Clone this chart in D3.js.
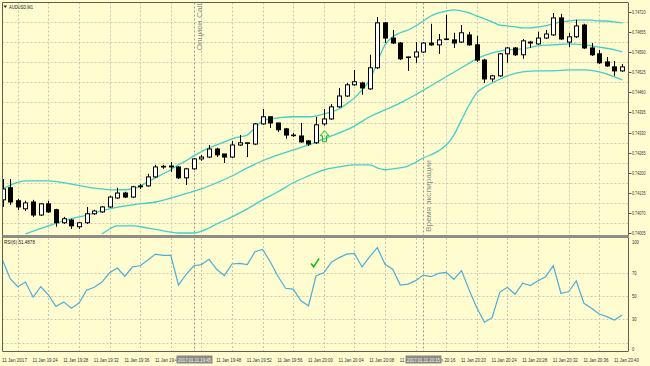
<!DOCTYPE html>
<html>
<head>
<meta charset="utf-8">
<script src="https://cdn.jsdelivr.net/npm/d3@7"></script>
<style>
  body { margin: 0; background: #fffccf; }
  svg { display: block; font-family: "Liberation Sans", "DejaVu Sans", sans-serif; }
</style>
</head>
<body>
<div id="chart"></div>
<script>
// Chart size
const width = 650;
const height = 366;

// AUDUSD M1 candles, one per minute from 19:20 to 20:41
const opens = [
  0.74113, 0.74152, 0.74110, 0.74084, 0.74106, 0.74064, 0.74100, 0.74081, 0.74039, 0.74048,
  0.74026, 0.74039, 0.74068, 0.74074, 0.74090, 0.74119, 0.74135, 0.74122, 0.74155, 0.74158,
  0.74187, 0.74219, 0.74219, 0.74219, 0.74184, 0.74213, 0.74245, 0.74251, 0.74277, 0.74261,
  0.74251, 0.74290, 0.74297, 0.74293, 0.74358, 0.74381, 0.74361, 0.74342, 0.74322, 0.74319,
  0.74303, 0.74297, 0.74358, 0.74374, 0.74413, 0.74448, 0.74484, 0.74490, 0.74471, 0.74539,
  0.74684, 0.74635, 0.74619, 0.74574, 0.74574, 0.74590, 0.74619, 0.74613, 0.74632, 0.74629,
  0.74622, 0.74645, 0.74613, 0.74564, 0.74503, 0.74513, 0.74584, 0.74603, 0.74581, 0.74622,
  0.74616, 0.74635, 0.74645, 0.74700, 0.74622, 0.74639, 0.74677, 0.74603, 0.74584, 0.74558,
  0.74542, 0.74529
];
const highs = [
  0.74180, 0.74180, 0.74116, 0.74110, 0.74113, 0.74103, 0.74110, 0.74084, 0.74058, 0.74052,
  0.74042, 0.74090, 0.74081, 0.74093, 0.74126, 0.74152, 0.74139, 0.74158, 0.74164, 0.74197,
  0.74226, 0.74226, 0.74235, 0.74222, 0.74216, 0.74248, 0.74258, 0.74290, 0.74281, 0.74261,
  0.74303, 0.74322, 0.74298, 0.74361, 0.74406, 0.74382, 0.74361, 0.74345, 0.74329, 0.74361,
  0.74306, 0.74381, 0.74406, 0.74422, 0.74474, 0.74490, 0.74532, 0.74494, 0.74581, 0.74703,
  0.74687, 0.74661, 0.74622, 0.74575, 0.74622, 0.74622, 0.74681, 0.74648, 0.74710, 0.74652,
  0.74677, 0.74655, 0.74642, 0.74568, 0.74516, 0.74587, 0.74606, 0.74606, 0.74632, 0.74626,
  0.74655, 0.74661, 0.74716, 0.74713, 0.74652, 0.74694, 0.74681, 0.74619, 0.74597, 0.74574,
  0.74561, 0.74551
];
const lows = [
  0.74090, 0.74097, 0.74080, 0.74077, 0.74058, 0.74061, 0.74071, 0.74026, 0.74035, 0.74019,
  0.74019, 0.74035, 0.74064, 0.74071, 0.74087, 0.74116, 0.74119, 0.74119, 0.74148, 0.74155,
  0.74184, 0.74213, 0.74203, 0.74180, 0.74161, 0.74210, 0.74239, 0.74248, 0.74251, 0.74232,
  0.74248, 0.74287, 0.74251, 0.74290, 0.74355, 0.74345, 0.74332, 0.74310, 0.74316, 0.74297,
  0.74287, 0.74293, 0.74352, 0.74371, 0.74410, 0.74445, 0.74481, 0.74452, 0.74468, 0.74535,
  0.74619, 0.74616, 0.74564, 0.74529, 0.74555, 0.74587, 0.74610, 0.74584, 0.74629, 0.74603,
  0.74619, 0.74610, 0.74558, 0.74490, 0.74494, 0.74510, 0.74555, 0.74577, 0.74568, 0.74603,
  0.74613, 0.74632, 0.74642, 0.74629, 0.74606, 0.74635, 0.74600, 0.74577, 0.74551, 0.74542,
  0.74513, 0.74526
];
const closes = [
  0.74148, 0.74106, 0.74090, 0.74103, 0.74064, 0.74100, 0.74074, 0.74039, 0.74052, 0.74029,
  0.74039, 0.74068, 0.74077, 0.74090, 0.74122, 0.74135, 0.74122, 0.74155, 0.74158, 0.74187,
  0.74219, 0.74221, 0.74222, 0.74184, 0.74213, 0.74245, 0.74251, 0.74277, 0.74258, 0.74251,
  0.74290, 0.74297, 0.74297, 0.74358, 0.74381, 0.74361, 0.74339, 0.74322, 0.74321, 0.74300,
  0.74293, 0.74355, 0.74374, 0.74413, 0.74448, 0.74484, 0.74494, 0.74474, 0.74539, 0.74684,
  0.74635, 0.74619, 0.74568, 0.74574, 0.74590, 0.74619, 0.74613, 0.74629, 0.74632, 0.74619,
  0.74652, 0.74613, 0.74564, 0.74503, 0.74513, 0.74584, 0.74603, 0.74581, 0.74626, 0.74619,
  0.74635, 0.74648, 0.74700, 0.74632, 0.74639, 0.74674, 0.74603, 0.74581, 0.74555, 0.74545,
  0.74529, 0.74542
];

// Bollinger bands: [bar index, price]
const bbUpper = [
  [0, 0.74148], [3, 0.74174], [6, 0.74174], [9, 0.74164], [12, 0.74151], [15, 0.74145],
  [17, 0.74148], [19, 0.74171], [20, 0.74184], [21, 0.74197], [22, 0.74210], [23, 0.74226],
  [24, 0.74239], [25, 0.74255], [26, 0.74268], [27, 0.74281], [28, 0.74290], [29, 0.74300],
  [30, 0.74310], [31, 0.74316], [32, 0.74322], [33, 0.74345], [34, 0.74368], [35, 0.74374],
  [36, 0.74377], [38, 0.74381], [40, 0.74381], [42, 0.74390], [43, 0.74397], [44, 0.74406],
  [45, 0.74423], [46, 0.74442], [47, 0.74468], [48, 0.74500], [49, 0.74558], [50, 0.74613],
  [51, 0.74639], [52, 0.74652], [53, 0.74661], [54, 0.74674], [55, 0.74690], [56, 0.74706],
  [57, 0.74716], [58, 0.74722], [59, 0.74726], [60, 0.74722], [61, 0.74716], [62, 0.74706],
  [63, 0.74697], [64, 0.74687], [65, 0.74677], [66, 0.74674], [67, 0.74671], [68, 0.74668],
  [69, 0.74668], [70, 0.74671], [71, 0.74674], [72, 0.74681], [73, 0.74687], [74, 0.74690],
  [75, 0.74693], [77, 0.74693], [78, 0.74690], [79, 0.74690], [80, 0.74687], [81, 0.74684]
];
const bbMiddle = [
  [3, 0.74003], [6, 0.74029], [8, 0.74045], [11, 0.74064], [14, 0.74084], [17, 0.74097],
  [20, 0.74106], [23, 0.74126], [26, 0.74148], [28, 0.74168], [30, 0.74190], [32, 0.74216],
  [34, 0.74239], [36, 0.74258], [38, 0.74274], [40, 0.74290], [42, 0.74310], [44, 0.74329],
  [46, 0.74351], [48, 0.74381], [50, 0.74403], [52, 0.74426], [54, 0.74452], [56, 0.74481],
  [58, 0.74510], [60, 0.74539], [62, 0.74568], [64, 0.74587], [66, 0.74597], [68, 0.74600],
  [70, 0.74610], [72, 0.74613], [74, 0.74616], [76, 0.74613], [78, 0.74606], [80, 0.74597],
  [81, 0.74590]
];
const bbLower = [
  [13, 0.74003], [14, 0.74019], [15, 0.74029], [17, 0.74029], [19, 0.74022], [21, 0.74013],
  [23, 0.74006], [25, 0.74006], [27, 0.74022], [28, 0.74035], [30, 0.74058], [32, 0.74084],
  [34, 0.74113], [36, 0.74139], [38, 0.74168], [40, 0.74190], [42, 0.74210], [44, 0.74219],
  [46, 0.74226], [48, 0.74226], [49, 0.74216], [50, 0.74210], [51, 0.74213], [53, 0.74222],
  [55, 0.74248], [57, 0.74271], [58, 0.74290], [59, 0.74322], [60, 0.74371], [61, 0.74419],
  [62, 0.74458], [63, 0.74477], [64, 0.74490], [66, 0.74513], [68, 0.74526], [70, 0.74529],
  [72, 0.74529], [74, 0.74532], [76, 0.74532], [78, 0.74526], [80, 0.74510], [81, 0.74500]
];

// RSI(6), one value per bar
const rsiValues = [
  81, 65, 58, 62, 49, 58, 51, 41, 45, 39.5,
  44, 55, 57.5, 62, 70, 74, 67, 75, 76, 81,
  86, 85, 85, 59.5, 68.7, 76, 77, 81.5, 73, 67.5,
  77.5, 78, 77, 88, 90, 79.5, 67, 56.7, 56, 46,
  41.7, 67.5, 70, 79, 83, 86, 86.7, 75, 83.8, 91.5,
  77.3, 73, 59.5, 60.3, 63.2, 68, 66.6, 69.5, 70.4, 64.4,
  71.8, 55.2, 40, 27.5, 31.4, 53.2, 57.5, 51.5, 61, 59,
  63.2, 66.6, 76, 52.4, 53.7, 63, 43.8, 39.5, 34.6, 32.3,
  29.4, 33.7
];

// Axis labels
const priceTicks = [0.74720, 0.74655, 0.74590, 0.74525, 0.74460, 0.74395,
  0.74330, 0.74265, 0.74200, 0.74135, 0.74070, 0.74005];
const rsiTicks = [100, 70, 50, 30, 0];
const timeTicks = ["11 Jan 2017", "11 Jan 19:24", "11 Jan 19:28", "11 Jan 19:32", "11 Jan 19:36",
  "11 Jan 19:40", "11 Jan 19:44", "11 Jan 19:48", "11 Jan 19:52", "11 Jan 19:56", "11 Jan 20:00",
  "11 Jan 20:04", "11 Jan 20:08", "11 Jan 20:12", "11 Jan 20:16", "11 Jan 20:20", "11 Jan 20:24",
  "11 Jan 20:28", "11 Jan 20:32", "11 Jan 20:36", "11 Jan 20:40"];
const tickEvery = 4; // bars between time labels

// Vertical event lines: bar index, caption, axis stamp
const events = [
  { bar: 25, label: "Опцион Call", stamp: "2017.01.11 19:45", len: 47, at: "top" },
  { bar: 55, label: "Время экспирации", stamp: "2017.01.11 20:15", len: 72, at: "bottom" }
];

const bg = "#fffccf";
const gridColor = "#c9c8b2";
const bandColor = "#3fd0cc";
const rsiColor = "#4aafdb";

// Layout
const plot = { left: 2.5, right: 628, top: 2.5, bottom: 235 };
const sub = { top: 238, bottom: 351.5 };
const stampHalf = 18;
const labelWidth = 25;

const svg = d3
  .select("#chart")
  .append("svg")
  .attr("width", width)
  .attr("height", height);

svg.append("rect").attr("width", width).attr("height", height).attr("fill", bg);

// Scales
const x = d3.scaleLinear().domain([0, opens.length - 1]).range([2.5, 622.15]);
const y = d3.scaleLinear().domain([0.74005, 0.74720]).range([233.3, 11.7]);
const yRsi = d3.scaleLinear().domain([0, 100]).range([354.3, 237.8]);
const px = (i) => Math.round(x(i)) + 0.5;

// Tiny terminal font: draw at a readable size, then squeeze horizontally to the target width
function squeezed(parent, str, tx, ty, size, w, anchor = "start") {
  const t = parent.append("text")
    .attr("font-size", size)
    .attr("text-anchor", anchor)
    .text(str);
  const natural = t.node().getComputedTextLength() || w;
  t.attr("transform", `translate(${tx},${ty}) scale(${w / natural},1)`);
  return t;
}

// Clip paths
const defs = svg.append("defs");
defs.append("clipPath").attr("id", "clipMain").append("rect")
  .attr("x", plot.left).attr("y", plot.top)
  .attr("width", plot.right - plot.left).attr("height", plot.bottom - plot.top);
defs.append("clipPath").attr("id", "clipSub").append("rect")
  .attr("x", plot.left).attr("y", sub.top)
  .attr("width", plot.right - plot.left).attr("height", sub.bottom - sub.top);

// Time labels partly hidden under the event stamps are cut at the stamp edges
const clipTime = defs.append("clipPath").attr("id", "clipTime");
{
  const cuts = events.map((e) => px(e.bar)).sort((a, b) => a - b);
  let from = 0;
  cuts.forEach((c) => {
    clipTime.append("rect").attr("x", from).attr("y", 350).attr("width", c - stampHalf - from).attr("height", 16);
    from = c + stampHalf;
  });
  clipTime.append("rect").attr("x", from).attr("y", 350).attr("width", width - from).attr("height", 16);
}

// Grid: the terminal draws it half a step off the scale labels
const grid = svg.append("g")
  .attr("stroke", gridColor)
  .attr("stroke-dasharray", "2,2")
  .attr("stroke-width", 1);

d3.pairs(priceTicks).forEach(([a, b]) => {
  const gy = Math.round(y((a + b) / 2)) + 0.5;
  grid.append("line").attr("x1", plot.left).attr("x2", plot.right).attr("y1", gy).attr("y2", gy);
});
[70, 50, 30, 10].forEach((v) => {
  const gy = Math.round(yRsi(v)) + 0.5;
  grid.append("line").attr("x1", plot.left).attr("x2", plot.right).attr("y1", gy).attr("y2", gy);
});
timeTicks.forEach((t, k) => {
  const gx = px(k * tickEvery + tickEvery / 2);
  if (gx > plot.right) return;
  grid.append("line").attr("x1", gx).attr("x2", gx).attr("y1", plot.top).attr("y2", plot.bottom);
  grid.append("line").attr("x1", gx).attr("x2", gx).attr("y1", sub.top).attr("y2", sub.bottom);
});

// Event lines and captions
events.forEach((e) => {
  const ex = px(e.bar);
  svg.append("line")
    .attr("x1", ex).attr("x2", ex)
    .attr("y1", plot.top).attr("y2", sub.bottom)
    .attr("stroke", "#9a9a94")
    .attr("stroke-dasharray", "2,2");
  const ty = e.at === "top" ? plot.top + 1 : plot.bottom - 3;
  svg.append("text")
    .attr("transform", `translate(${ex + 7},${ty}) rotate(-90)`)
    .attr("text-anchor", e.at === "top" ? "end" : "start")
    .attr("font-size", 7.5)
    .attr("fill", "#8f8f8a")
    .attr("textLength", e.len)
    .attr("lengthAdjust", "spacingAndGlyphs")
    .text(e.label);
});

// Bollinger bands
const band = d3.line()
  .x((d) => x(d[0]))
  .y((d) => y(d[1]))
  .curve(d3.curveMonotoneX);

const mainG = svg.append("g").attr("clip-path", "url(#clipMain)");
[bbUpper, bbMiddle, bbLower].forEach((b) => {
  mainG.append("path")
    .datum(b)
    .attr("fill", "none")
    .attr("stroke", bandColor)
    .attr("stroke-width", 1.3)
    .attr("d", band);
});

// Candles
const candles = opens.map((o, i) => ({ i, o, h: highs[i], l: lows[i], c: closes[i] }));

mainG.selectAll("line.wick")
  .data(candles)
  .join("line")
  .attr("class", "wick")
  .attr("x1", (d) => px(d.i))
  .attr("x2", (d) => px(d.i))
  .attr("y1", (d) => y(d.h))
  .attr("y2", (d) => y(d.l))
  .attr("stroke", "#000")
  .attr("stroke-width", 1);

mainG.selectAll("rect.body")
  .data(candles)
  .join("rect")
  .attr("class", "body")
  .attr("x", (d) => px(d.i) - 2)
  .attr("width", 4)
  .attr("y", (d) => y(Math.max(d.o, d.c)))
  .attr("height", (d) => Math.max(0.6, y(Math.min(d.o, d.c)) - y(Math.max(d.o, d.c))))
  .attr("fill", (d) => (d.c >= d.o ? "#ffffff" : "#000000"))
  .attr("stroke", "#000")
  .attr("stroke-width", 1);

// Buy signal arrow under bar 42
const arrowBar = 42;
mainG.append("path")
  .attr("transform", `translate(${px(arrowBar)},${y(lows[arrowBar]) + 5})`)
  .attr("d", "M0,0 L-4.5,5 L-2,5 L-2,11 L2,11 L2,5 L4.5,5 Z")
  .attr("fill", "none")
  .attr("stroke", "#10c010")
  .attr("stroke-width", 1);

// RSI line
const subG = svg.append("g").attr("clip-path", "url(#clipSub)");
subG.append("path")
  .datum(rsiValues)
  .attr("fill", "none")
  .attr("stroke", rsiColor)
  .attr("stroke-width", 1.2)
  .attr("d", d3.line().x((d, i) => x(i)).y((d) => yRsi(d)));

// Check mark in RSI window
subG.append("path")
  .attr("transform", `translate(${x(41) - 1},${yRsi(78)})`)
  .attr("d", "M-4,0 L-1.5,3.5 L4,-5")
  .attr("fill", "none")
  .attr("stroke", "#18b818")
  .attr("stroke-width", 1.6);

// Frame
const frame = svg.append("g").attr("fill", "none").attr("stroke", "#5f5f55");
frame.append("line").attr("x1", plot.left).attr("x2", plot.right).attr("y1", plot.top).attr("y2", plot.top);
frame.append("line").attr("x1", plot.left).attr("x2", plot.left).attr("y1", plot.top).attr("y2", sub.bottom);
frame.append("line").attr("x1", plot.right + 0.5).attr("x2", plot.right + 0.5).attr("y1", plot.top).attr("y2", sub.bottom);
frame.append("line").attr("x1", plot.left).attr("x2", plot.right).attr("y1", sub.bottom).attr("y2", sub.bottom);
svg.append("rect")
  .attr("x", plot.left).attr("y", plot.bottom)
  .attr("width", plot.right - plot.left + 1).attr("height", sub.top - plot.bottom)
  .attr("fill", "#8e8e86");

// Price axis
const priceAxis = svg.append("g").attr("fill", "#333");
priceTicks.forEach((p) => {
  const ty = y(p);
  priceAxis.append("line")
    .attr("x1", plot.right + 1).attr("x2", plot.right + 3.5)
    .attr("y1", Math.round(ty) + 0.5).attr("y2", Math.round(ty) + 0.5)
    .attr("stroke", "#555");
  squeezed(priceAxis, d3.format(".5f")(p), 632, ty + 2, 5.5, 13.5);
});

// RSI axis
const rsiAxis = svg.append("g").attr("fill", "#333");
rsiTicks.forEach((v) => {
  const ty = Math.max(241.7, Math.min(349.3, yRsi(v)));
  squeezed(rsiAxis, String(v), 632, ty + 2, 5.5, String(v).length * 2.3);
});

// Time axis (labels fully covered by an event stamp are not drawn)
const timeG = svg.append("g").attr("clip-path", "url(#clipTime)").attr("fill", "#333");
timeTicks.forEach((t, k) => {
  const lx = x(k * tickEvery) - 0.5;
  const covered = events.some((e) => lx >= px(e.bar) - stampHalf && lx + labelWidth <= px(e.bar) + stampHalf);
  if (covered) return;
  squeezed(timeG, t, lx, 361.5, 5.5, labelWidth);
});
events.forEach((e) => {
  const ex = px(e.bar);
  svg.append("rect")
    .attr("x", ex - stampHalf).attr("y", 355.5)
    .attr("width", stampHalf * 2).attr("height", 8)
    .attr("fill", "#8a8a86");
  squeezed(svg.append("g").attr("fill", "#f4f4f0"), e.stamp, ex, 361.5, 5.5, 33, "middle");
});

// Window captions
svg.append("path").attr("d", "M3.5,5.5 L7,5.5 L5.25,8 Z").attr("fill", "#222");
const captions = svg.append("g").attr("fill", "#222");
squeezed(captions, "AUDUSD,M1", 9, 8.5, 5.5, 24);
squeezed(captions, "RSI(6) 51.4878", 4, 243.5, 5.5, 31);
</script>
</body>
</html>
